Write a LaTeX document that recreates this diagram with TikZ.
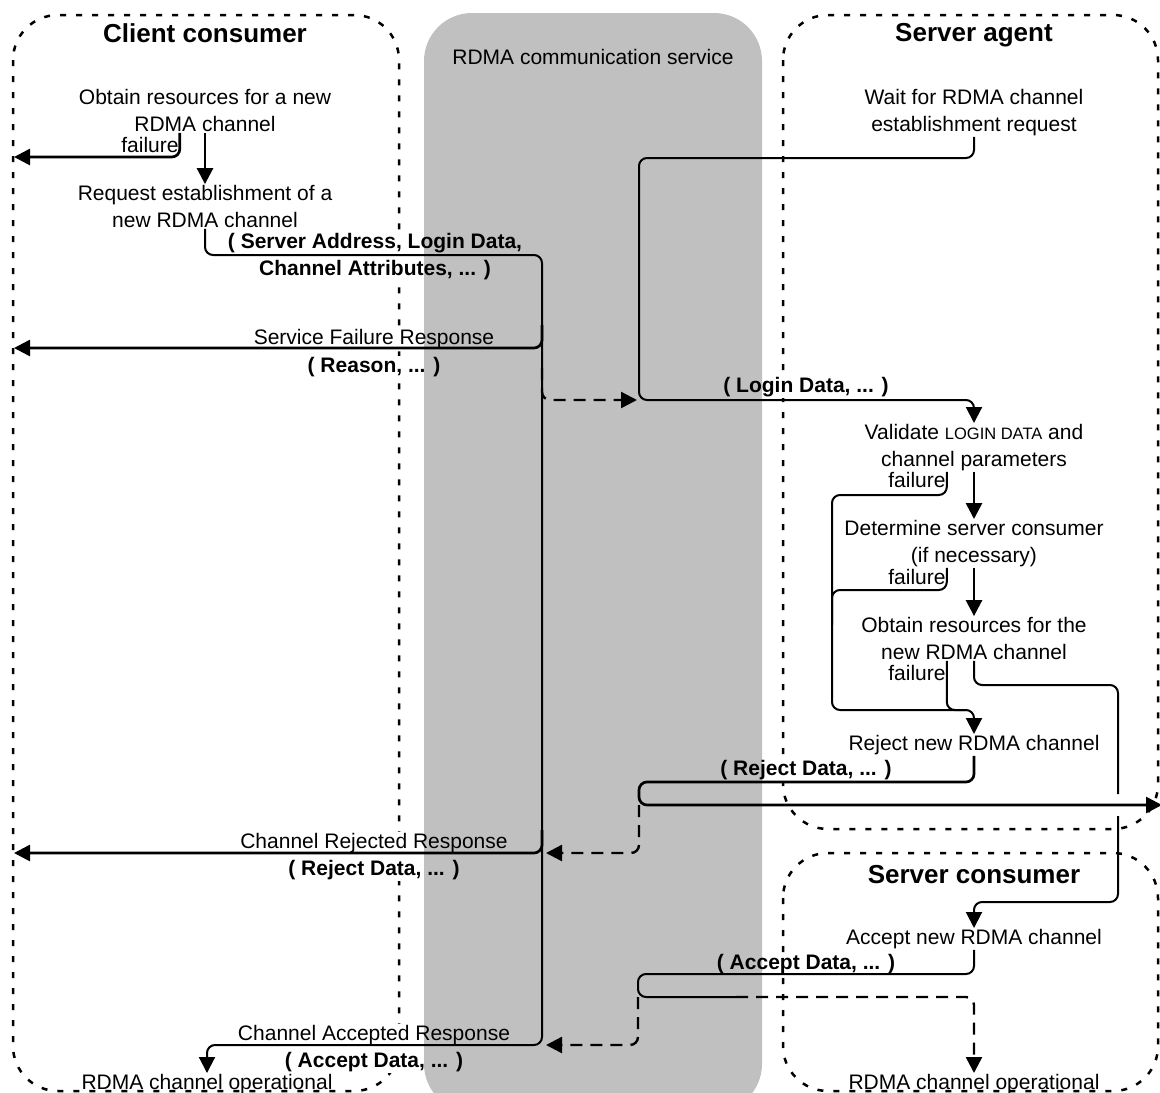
\documentclass[tikz,border=0pt]{standalone}
\usepackage{fontspec}
\setmainfont{Liberation Sans}
\usepackage{tikz}
\usetikzlibrary{arrows.meta}
\definecolor{bandgray}{HTML}{C0C0C0}

\tikzset{
  txt/.style={align=center, inner sep=1pt, font=\fontsize{21}{27}\selectfont},
  dat/.style={align=center, inner sep=1pt, font=\fontsize{21}{27}\selectfont\bfseries},
  ttl/.style={inner sep=1pt, font=\fontsize{26}{30}\selectfont\bfseries},
  mask/.style={fill=white},
  lane/.style={line width=2.5pt, dash pattern=on 6pt off 10pt, rounded corners=45pt},
  conn/.style={line width=2pt, rounded corners=8pt},
  tip/.style={-{Triangle[length=16pt,width=16pt]}},
  heavy/.style={line width=2.7pt, rounded corners=8pt, tip},
  dconn/.style={line width=2.4pt, rounded corners=8pt, dash pattern=on 12pt off 8pt, tip},
}
\newcommand{\lowcaps}[1]{{\fontsize{16.5}{27}\selectfont #1}}

\begin{document}
\begin{tikzpicture}[x=1pt, y=-1pt]
\useasboundingbox (0,0) rectangle (1160,1093);
\draw[lane] (13,15) rectangle (399,1091);
\draw[lane] (783,15) rectangle (1158,829);
\draw[lane] (783,853) rectangle (1158,1091);
%
\node[ttl](ccTitle) at (205,33) {Client consumer};
\node[txt](svcTitle) at (593,57) {RDMA communication service};
\node[ttl](saTitle) at (974,35) {Server agent};
\node[ttl](scTitle) at (974,875) {Server consumer};
%
\node[txt](ccObtain) at (205,110.5) {Obtain resources for a new\\RDMA channel};
\node[txt](ccFail) at (150,145) {failure};
\node[txt](ccRequest) at (205,206.5) {Request establishment of a\\new RDMA channel};
\node[dat, mask](reqData) at (375,256.5) {( Server Address, Login Data,\\Channel Attributes, ... )};
\node[txt, mask](sfResp) at (374,339) {Service Failure Response};
\node[dat, mask](sfData) at (374,367) {( Reason, ... )};
\node[txt, mask](crResp) at (374,843) {Channel Rejected Response};
\node[dat, mask](crData) at (374,870) {( Reject Data, ... )};
\node[txt, mask](caResp) at (374,1035) {Channel Accepted Response};
\node[dat, mask](caData) at (374,1062) {( Accept Data, ... )};
\node[txt](ccOper) at (207,1084) {RDMA channel operational};
%
\node[txt](saWait) at (974,112.5) {Wait for RDMA channel\\establishment request};
\node[dat, mask](loginData) at (806,387) {( Login Data, ... )};
\node[txt](saValidate) at (974,447.5) {Validate \lowcaps{LOGIN DATA} and\\channel parameters};
\node[txt](saFail1) at (917,480) {failure};
\node[txt](saDetermine) at (974,543.5) {Determine server consumer\\(if necessary)};
\node[txt](saFail2) at (917,577) {failure};
\node[txt](saObtain) at (974,638.5) {Obtain resources for the\\new RDMA channel};
\node[txt](saFail3) at (917,673) {failure};
\node[txt](saReject) at (974,745) {Reject new RDMA channel};
\node[dat, mask](rejData) at (806,770) {( Reject Data, ... )};
\node[txt](scAccept) at (974,939) {Accept new RDMA channel};
\node[dat, mask](accData) at (806,964) {( Accept Data, ... )};
\node[txt](scOper) at (974,1084) {RDMA channel operational};
%
\begin{scope}[blend mode=multiply]
\fill[bandgray, rounded corners=48pt] (424,13) rectangle (762,1112);
\end{scope}
%
\coordinate (ccExit1) at (14,157);
\coordinate (ccExit2) at (14,348);
\coordinate (ccExit3) at (14,853);
\coordinate (busTop) at (542,255);
\coordinate (busBot) at (542,1045);
\coordinate (busSF) at (542,325);
\coordinate (busLogin) at (542,368);
\coordinate (busCR) at (542,830);
\coordinate (busRej) at (546,853);
\coordinate (busAcc) at (546,1045);
\coordinate (loginTop) at (639,158);
\coordinate (loginBot) at (639,400);
\coordinate (loginIn) at (637,400);
\coordinate (failTop) at (832,495);
\coordinate (failMid) at (832,590);
\coordinate (failLow) at (832,625);
\coordinate (failBot) at (832,710);
\coordinate (failJoin) at (966,710);
\coordinate (okRight) at (1118,685);
\coordinate (jumpTop) at (1118,794);
\coordinate (jumpBot) at (1118,816);
\coordinate (okTurn) at (1118,902);
\coordinate (rejTurn) at (639,782);
\coordinate (rejExit) at (1162,805);
\coordinate (accTurn) at (638,974);
\coordinate (accSplit) at (736,997);
%
\draw[heavy] (ccObtain.south) -- (ccRequest.north);
\draw[heavy] (ccFail.east |- ccObtain.south) |- (ccExit1);
\draw[conn, tip] (ccRequest.south) |- (busTop) -- (busBot) -| (ccOper.north);
\draw[heavy] (busSF) |- (ccExit2);
\draw[dconn] (busLogin) |- (loginIn);
\draw[heavy] (busCR) |- (ccExit3);
%
\draw[conn, tip] (saWait.south) |- (loginTop) -- (loginBot) -| (saValidate.north);
\draw[heavy] (saValidate.south) -- (saDetermine.north);
\draw[heavy] (saDetermine.south) -- (saObtain.north);
\draw[conn, tip] (saFail1.east |- saValidate.south) |- (failTop) -- (failBot) -| (saReject.north);
\draw[conn] (saFail2.east |- saDetermine.south) |- (failMid) -- (failLow);
\draw[conn] (saFail3.east |- saObtain.south) |- (failJoin);
\draw[conn] (saObtain.south) |- (okRight) -- (jumpTop);
\draw[conn, tip] (jumpBot) -- (okTurn) -| (scAccept.north);
\draw[heavy] (saReject.south) |- (rejTurn) |- (rejExit);
\draw[dconn] (rejTurn |- rejExit) |- (busRej);
\draw[conn] (scAccept.south) |- (accTurn) |- (accSplit);
\draw[dconn] (accSplit) -| (scOper.north);
\draw[dconn] (accTurn |- accSplit) |- (busAcc);
\end{tikzpicture}
\end{document}
